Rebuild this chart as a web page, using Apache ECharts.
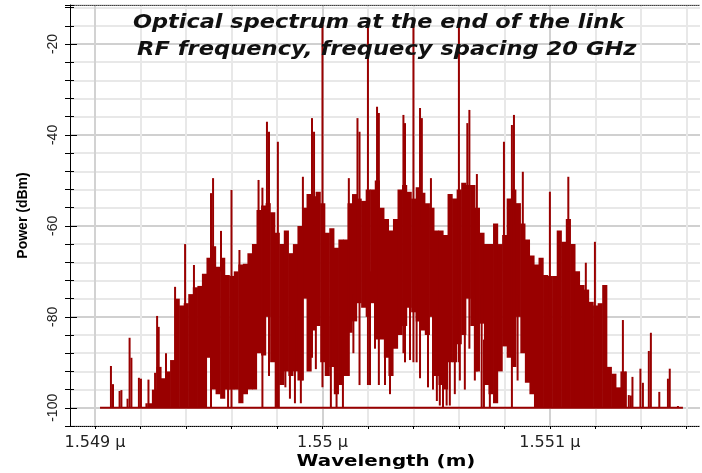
<!DOCTYPE html>
<html>
<head>
<meta charset="utf-8">
<script src="https://cdn.jsdelivr.net/npm/echarts@6.0.0/dist/echarts.min.js"></script>
<style>
html, body { margin: 0; padding: 0; background: #fff; }
#chart { width: 702px; height: 473px; }
</style>
</head>
<body>
<div id="chart"></div>
<script>
// axis ranges and tick values (wavelength in micrometres, power in dBm)
const xMin = 1.54889, xMax = 1.55166;
const yMin = -104, yMax = -11.43;
const xTickValues = [1.5490, 1.5492, 1.5494, 1.5496, 1.5498, 1.5500, 1.5502, 1.5504, 1.5506, 1.5508, 1.5510, 1.5512, 1.5514, 1.5516];
const xLabelValues = [1.549, 1.550, 1.551];
const yLabelValues = [-100, -80, -60, -40, -20];

// dense part of the spectrum, sampled every 0.02 nm: top and bottom of the red mass
const bandStep = 0.00002;
const bandWl = [
  1.54924, 1.54926, 1.54928, 1.54930, 1.54932, 1.54934, 1.54936, 1.54938, 1.54940, 1.54942,
  1.54944, 1.54946, 1.54948, 1.54950, 1.54952, 1.54954, 1.54956, 1.54958, 1.54960, 1.54962,
  1.54964, 1.54966, 1.54968, 1.54970, 1.54972, 1.54974, 1.54976, 1.54978, 1.54980, 1.54982,
  1.54984, 1.54986, 1.54988, 1.54990, 1.54992, 1.54994, 1.54996, 1.54998, 1.55000, 1.55002,
  1.55004, 1.55006, 1.55008, 1.55010, 1.55012, 1.55014, 1.55016, 1.55018, 1.55020, 1.55022,
  1.55024, 1.55026, 1.55028, 1.55030, 1.55032, 1.55034, 1.55036, 1.55038, 1.55040, 1.55042,
  1.55044, 1.55046, 1.55048, 1.55050, 1.55052, 1.55054, 1.55056, 1.55058, 1.55060, 1.55062,
  1.55064, 1.55066, 1.55068, 1.55070, 1.55072, 1.55074, 1.55076, 1.55078, 1.55080, 1.55082,
  1.55084, 1.55086, 1.55088, 1.55090, 1.55092, 1.55094, 1.55096, 1.55098, 1.55100, 1.55102,
  1.55104, 1.55106, 1.55108, 1.55110, 1.55112, 1.55114, 1.55116, 1.55118, 1.55120, 1.55122,
  1.55124, 1.55126, 1.55128, 1.55130, 1.55132
];
const bandHi = [
  -99, -96, -91, -93.5, -92, -89.5, -76, -77.5, -77, -75,
  -73.5, -73.2, -70.5, -67, -64.5, -69, -67, -70.8, -71, -70,
  -68.5, -68.3, -66, -64, -56.5, -55.5, -55, -57, -61.5, -64,
  -61, -66, -64, -60, -56, -53, -53.5, -52.5, -55, -61.5,
  -60.5, -64.8, -63, -63, -55, -53, -54, -54.5, -52, -52,
  -50, -56, -58.5, -61, -58.5, -52, -51, -52.5, -54, -51.5,
  -52.7, -55, -56, -61, -61, -62, -53, -54, -52, -50.5,
  -51, -51, -56, -61.5, -64, -64, -59.5, -64, -62, -54,
  -52, -55, -59.5, -63, -66.5, -68.5, -67, -70.8, -71, -71,
  -61, -63.5, -58.5, -64, -70, -73, -74, -76.7, -77.5, -77,
  -73, -91, -92.5, -95.5, -92
];
const bandLo = [
  -100, -100, -100, -100, -100, -100, -100, -100, -100, -100,
  -100, -100, -100, -89, -96, -97, -98, -96, -96, -96,
  -99, -97, -96, -96, -88, -88.5, -80, -90, -100, -95,
  -92, -93, -92, -94, -76, -92, -83, -82, -90, -93,
  -91, -97, -95, -93, -83.5, -81, -77, -78, -80, -77,
  -85, -85, -89, -93, -87, -84, -82, -78, -79, -81,
  -83, -84, -80, -93, -95, -96, -90, -90, -86, -84,
  -76, -82, -92, -81.5, -95, -97, -99, -92, -86.5, -89,
  -91, -80, -88, -94.5, -97, -100, -100, -100, -100, -100,
  -100, -100, -100, -100, -100, -100, -100, -100, -100, -100,
  -100, -100, -100, -100, -100
];

// single spectral lines: isolated lines, peaks above the mass and drops below it
const lineWl = [
  1.549070, 1.549079, 1.549108, 1.549116, 1.549143, 1.549152, 1.549160, 1.549193, 1.549202, 1.549226,
  1.549235, 1.549264, 1.549273, 1.549280, 1.549312, 1.549352, 1.549396, 1.549435, 1.549510, 1.549519,
  1.549554, 1.549585, 1.549600, 1.549635, 1.549719, 1.549736, 1.549756, 1.549765, 1.549804, 1.549837,
  1.549857, 1.549879, 1.549905, 1.549914, 1.549954, 1.549963, 1.549971, 1.550000, 1.550037, 1.550062,
  1.550090, 1.550116, 1.550136, 1.550154, 1.550163, 1.550200, 1.550209, 1.550231, 1.550240, 1.550248,
  1.550275, 1.550297, 1.550356, 1.550363, 1.550385, 1.550400, 1.550414, 1.550429, 1.550437, 1.550464,
  1.550477, 1.550486, 1.550503, 1.550516, 1.550530, 1.550546, 1.550560, 1.550582, 1.550600, 1.550604,
  1.550626, 1.550637, 1.550646, 1.550670, 1.550679, 1.550700, 1.550710, 1.550736, 1.550798, 1.550833,
  1.550842, 1.550858, 1.550881, 1.551000, 1.551081, 1.551158, 1.551198, 1.551321, 1.551334, 1.551347,
  1.551356, 1.551363, 1.551398, 1.551409, 1.551435, 1.551444, 1.551481, 1.551519, 1.551527, 1.551563
];
const lineTop = [
  -90.8, -94.8, -96.3, -96.1, -98, -84.6, -89, -93.4, -93.6, -99,
  -93.8, -92.3, -79.8, -82.2, -88, -73.4, -64, -68.6, -52.8, -49.5,
  -61.1, -80, -52.1, -65.3, -49.9, -51.6, -37.1, -39.3, -41.5, -80,
  -80, -80, -80, -49.2, -36.3, -39.3, -75, -15.8, -80, -85,
  -85, -49.5, -75, -36.3, -39.3, -15.8, -70, -70, -33.8, -35.2,
  -75, -80, -35.6, -37.4, -70, -15.8, -70, -34.1, -36.3, -75,
  -49.5, -75, -80, -80, -80, -80, -80, -80, -15.8, -75,
  -75, -37.4, -34.5, -75, -48.6, -75, -85, -85, -41.5, -37.8,
  -35.6, -75, -48.1, -52.5, -49.2, -68.1, -63.5, -80.7, -92, -97.2,
  -97.3, -93.2, -91.4, -94.5, -87.5, -83.5, -96.5, -93.6, -91.4, -99.6
];
const lineBottom = [
  -100, -100, -100, -100, -100, -100, -100, -100, -100, -100,
  -100, -100, -100, -100, -100, -100, -100, -100, -100, -70,
  -70, -100, -100, -70, -62, -100, -62, -93, -68, -95.5,
  -98, -99, -99, -94, -89, -60, -91.5, -95.5, -100, -100,
  -100, -93, -88, -60, -95, -95, -95, -87, -60, -95,
  -95, -97, -88, -90, -89.5, -90, -90, -93.5, -60, -95.5,
  -65, -96, -98.5, -99.5, -100, -99.5, -99.5, -97, -90, -94,
  -96, -60, -87, -94, -92, -100, -100, -100, -70, -100,
  -60, -94, -70, -80, -70, -100, -100, -100, -100, -100,
  -100, -100, -100, -100, -100, -100, -100, -100, -100, -100
];

// noise floor of the analyser
const floorWl = [1.549022, 1.551585];
const floorDb = [-100, -100];

const RED = '#990000';

const chart = echarts.init(document.getElementById('chart'));

chart.setOption({
  animation: false,
  backgroundColor: '#ffffff',
  grid: { left: 70, right: 2, top: 5, bottom: 47, containLabel: false, outerBoundsMode: 'none' },
  graphic: [
    {
      type: 'text', x: 133, y: 23, scaleX: 1.12, z: 100,
      style: { text: 'Optical spectrum at the end of the link', font: 'italic bold 20px "DejaVu Sans"', fill: '#111', align: 'left', verticalAlign: 'middle' }
    },
    {
      type: 'text', x: 137, y: 50, scaleX: 1.13, z: 100,
      style: { text: 'RF frequency, frequecy spacing 20 GHz', font: 'italic bold 20px "DejaVu Sans"', fill: '#111', align: 'left', verticalAlign: 'middle' }
    },
    {
      type: 'text', x: 386, y: 462, scaleX: 1.24, z: 100,
      style: { text: 'Wavelength (m)', font: 'bold 16px "DejaVu Sans"', fill: '#000', align: 'center', verticalAlign: 'middle' }
    }
  ],
  xAxis: [
    {
      type: 'value', min: xMin, max: xMax, position: 'bottom',
      axisLine: { show: true, onZero: false, lineStyle: { color: '#000', type: 'dotted', width: 1 } },
      axisTick: { show: true, customValues: xTickValues, length: 3, lineStyle: { color: '#000' } },
      axisLabel: {
        customValues: xLabelValues, formatter: v => v + ' μ',
        fontSize: 16, fontFamily: 'DejaVu Sans', color: '#222', margin: 9
      },
      splitLine: { show: true, lineStyle: { color: '#e8e8e8', width: 2 } }
    },
    {
      type: 'value', min: xMin, max: xMax, position: 'top',
      axisLine: { show: true, onZero: false, lineStyle: { color: '#444', type: 'dotted', width: 1 } },
      axisTick: { show: false, customValues: xLabelValues },
      axisLabel: { show: false },
      splitLine: { show: true, lineStyle: { color: '#d2d2d2', width: 2 } }
    }
  ],
  yAxis: [
    {
      type: 'value', min: yMin, max: yMax, interval: 4, position: 'left',
      axisLine: { show: true, onZero: false, lineStyle: { color: '#000', width: 1 } },
      axisTick: { show: true, length: 5, lineStyle: { color: '#000' } },
      axisLabel: {
        formatter: v => (v % 20 === 0 ? String(v) : ''),
        rotate: 90, fontSize: 14, fontFamily: 'Liberation Sans', color: '#222', margin: 10
      },
      splitLine: { show: true, lineStyle: { color: '#e8e8e8', width: 2 } },
      name: 'Power (dBm)', nameLocation: 'middle', nameGap: 40,
      nameTextStyle: { fontWeight: 'bold', fontSize: 14, fontFamily: 'Liberation Sans', color: '#000' }
    },
    {
      type: 'value', min: yMin, max: yMax, interval: 4, position: 'left',
      axisLine: { show: false },
      axisTick: { show: true, inside: true, length: 4, lineStyle: { color: '#000' } },
      axisLabel: { show: false },
      splitLine: { show: false }
    },
    {
      type: 'value', min: yMin, max: yMax, position: 'left',
      axisLine: { show: false },
      axisTick: { show: true, inside: true, length: 7, customValues: yLabelValues, lineStyle: { color: '#000' } },
      axisLabel: { show: false },
      splitLine: { show: true, lineStyle: { color: '#d0d0d0', width: 2 } }
    }
  ],
  series: [
    {
      name: 'floor', type: 'line', silent: true, symbol: 'none',
      data: floorWl.map((w, i) => [w, floorDb[i]]),
      lineStyle: { color: RED, width: 2 }
    },
    {
      name: 'band', type: 'custom', silent: true, clip: true,
      data: bandWl.map((w, i) => [w, bandLo[i], bandHi[i]]),
      encode: { x: 0, y: [1, 2] },
      renderItem: function (params, api) {
        const x = api.value(0);
        const top = api.coord([x, api.value(2)]);
        const bot = api.coord([x, api.value(1)]);
        const w = api.size([bandStep, 0])[0];
        return {
          type: 'rect',
          shape: { x: top[0] - w / 2, y: top[1], width: w + 0.6, height: Math.max(bot[1] - top[1], 1) },
          style: { fill: RED }
        };
      }
    },
    {
      name: 'lines', type: 'custom', silent: true, clip: true,
      data: lineWl.map((w, i) => [w, lineBottom[i], lineTop[i]]),
      encode: { x: 0, y: [1, 2] },
      renderItem: function (params, api) {
        const x = api.value(0);
        const top = api.coord([x, api.value(2)]);
        const bot = api.coord([x, api.value(1)]);
        return {
          type: 'line',
          shape: { x1: top[0], y1: top[1], x2: bot[0], y2: bot[1] },
          style: { stroke: RED, lineWidth: 2 }
        };
      }
    }
  ]
});
</script>
</body>
</html>
